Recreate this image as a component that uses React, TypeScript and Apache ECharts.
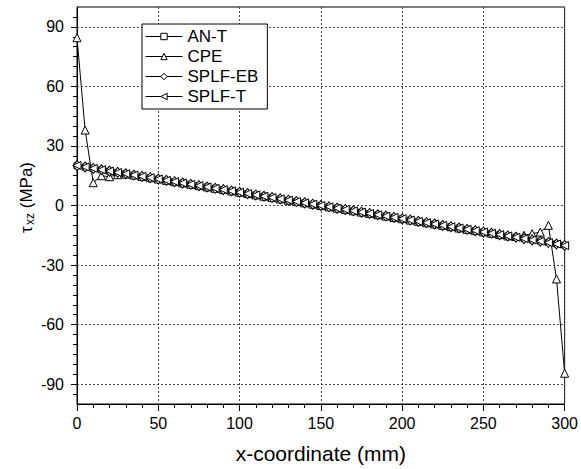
import React, { useEffect, useRef } from "react";
import * as echarts from "echarts";

const xValues = [
  0, 5, 10, 15, 20, 25, 30, 35, 40, 45, 50, 55, 60, 65, 70, 75, 80, 85, 90, 95,
  100, 105, 110, 115, 120, 125, 130, 135, 140, 145, 150, 155, 160, 165, 170, 175,
  180, 185, 190, 195, 200, 205, 210, 215, 220, 225, 230, 235, 240, 245, 250, 255,
  260, 265, 270, 275, 280, 285, 290, 295, 300,
];

const anT = [
  20, 19.33, 18.67, 18, 17.33, 16.67, 16, 15.33, 14.67, 14, 13.33, 12.67, 12,
  11.33, 10.67, 10, 9.33, 8.67, 8, 7.33, 6.67, 6, 5.33, 4.67, 4, 3.33, 2.67, 2,
  1.33, 0.67, 0, -0.67, -1.33, -2, -2.67, -3.33, -4, -4.67, -5.33, -6, -6.67,
  -7.33, -8, -8.67, -9.33, -10, -10.67, -11.33, -12, -12.67, -13.33, -14, -14.67,
  -15.33, -16, -16.67, -17.33, -18, -18.67, -19.33, -20,
];

const cpe = [
  84.5, 38, 11.5, 15, 14.5, 15.5, 15.8, 15.33, 14.67, 14, 13.33, 12.67, 12,
  11.33, 10.67, 10, 9.33, 8.67, 8, 7.33, 6.67, 6, 5.33, 4.67, 4, 3.33, 2.67, 2,
  1.33, 0.67, 0, -0.67, -1.33, -2, -2.67, -3.33, -4, -4.67, -5.33, -6, -6.67,
  -7.33, -8, -8.67, -9.33, -10, -10.67, -11.33, -12, -12.67, -13.33, -14, -14.67,
  -15.33, -15.6, -15, -14.2, -13.4, -10, -37, -84.5,
];

const splfEB = [
  20.1, 19.4, 18.7, 18, 17.33, 16.67, 16, 15.33, 14.67, 14, 13.33, 12.67, 12,
  11.33, 10.67, 10, 9.33, 8.67, 8, 7.33, 6.67, 6, 5.33, 4.67, 4, 3.33, 2.67, 2,
  1.33, 0.67, 0, -0.67, -1.33, -2, -2.67, -3.33, -4, -4.67, -5.33, -6, -6.67,
  -7.33, -8, -8.67, -9.33, -10, -10.67, -11.33, -12, -12.67, -13.33, -14, -14.67,
  -15.33, -16, -16.67, -17.33, -18, -18.67, -19.4, -20.1,
];

const splfT = [
  20.2, 19.4, 18.7, 18, 17.33, 16.67, 16, 15.33, 14.67, 14, 13.33, 12.67, 12,
  11.33, 10.67, 10, 9.33, 8.67, 8, 7.33, 6.67, 6, 5.33, 4.67, 4, 3.33, 2.67, 2,
  1.33, 0.67, 0, -0.67, -1.33, -2, -2.67, -3.33, -4, -4.67, -5.33, -6, -6.67,
  -7.33, -8, -8.67, -9.33, -10, -10.67, -11.33, -12, -12.67, -13.33, -14, -14.67,
  -15.33, -16, -16.67, -17.33, -18, -18.67, -19.4, -20.2,
];

const seriesNames = ["AN-T", "CPE", "SPLF-EB", "SPLF-T"];
const yMajorTicks = [-90, -60, -30, 0, 30, 60, 90];
const yMinorTicks = [
  -95, -90, -85, -80, -75, -70, -65, -60, -55, -50, -45, -40, -35, -30, -25, -20,
  -15, -10, -5, 0, 5, 10, 15, 20, 25, 30, 35, 40, 45, 50, 55, 60, 65, 70, 75, 80,
  85, 90, 95,
];

const FONT = "'Liberation Sans', Arial, Helvetica, sans-serif";

function pair(ys: number[]) {
  return xValues.map((x, i) => [x, ys[i]]);
}

export default function App() {
  const ref = useRef<HTMLDivElement>(null);
  useEffect(() => {
    document.body.style.margin = "0";
    if (!ref.current) return;
    const chart = echarts.init(ref.current, undefined, { renderer: "svg" });
    const gridLine = { show: true, lineStyle: { color: "#444", type: [2, 2], width: 1 } };
    const mkSeries = (name: string, ys: number[], symbol: string, size: any, z: number) => ({
      name,
      type: "line",
      data: pair(ys),
      symbol,
      symbolSize: size,
      showAllSymbol: true,
      lineStyle: { color: "#000", width: 1 },
      itemStyle: { color: "#fff", borderColor: "#000", borderWidth: 1 },
      z,
    });
    chart.setOption({
      animation: false,
      backgroundColor: "#fff",
      grid: { left: 77, right: 12, top: 7, bottom: 65, show: true, borderColor: "#000", borderWidth: 1, backgroundColor: "transparent" },
      legend: {
        orient: "vertical",
        left: 142,
        top: 24,
        itemWidth: 37,
        itemHeight: 8,
        itemGap: 3,
        padding: [4, 9, 4, 3],
        borderColor: "#000",
        borderWidth: 1,
        backgroundColor: "#fff",
        data: seriesNames,
        itemStyle: { color: "#fff", borderColor: "#000", borderWidth: 1 },
        lineStyle: { color: "#000", width: 1 },
        formatter: "{a|{name}}",
        textStyle: {
          fontSize: 17,
          color: "#000",
          fontFamily: FONT,
          lineHeight: 17,
          rich: { a: { fontSize: 17, lineHeight: 17, fontFamily: FONT, color: "#000" } },
        },
      },
      graphic: [
        {
          type: "group",
          x: 26,
          y: 233,
          rotation: Math.PI / 2,
          children: [
            { type: "text", x: 0, y: 0, style: { text: "τ", font: `17px ${FONT}`, fill: "#000", textAlign: "left", textVerticalAlign: "middle" } },
            { type: "text", x: 8, y: 4, style: { text: "xz", font: `12px ${FONT}`, fill: "#000", textAlign: "left", textVerticalAlign: "middle" } },
            { type: "text", x: 20, y: 0, style: { text: " (MPa)", font: `17px ${FONT}`, fill: "#000", textAlign: "left", textVerticalAlign: "middle" } },
          ],
        },
      ],
      xAxis: {
        type: "value",
        min: 0,
        max: 300,
        interval: 50,
        name: "x-coordinate (mm)",
        nameLocation: "middle",
        nameGap: 39,
        nameTextStyle: { fontSize: 21, color: "#000", fontFamily: FONT },
        axisLine: { show: true, onZero: false, lineStyle: { color: "#000", width: 1 } },
        axisTick: { show: true, length: 7, lineStyle: { color: "#000" } },
        minorTick: { show: true, splitNumber: 5, length: 4, lineStyle: { color: "#000" } },
        axisLabel: { fontSize: 16, color: "#000", fontFamily: FONT, margin: 11 },
        splitLine: gridLine,
      },
      yAxis: [
        {
          type: "value",
          min: -100,
          max: 100,
          interval: 10,
          axisLine: { show: true, onZero: false, lineStyle: { color: "#000", width: 1 } },
          axisTick: { show: true, length: 6, customValues: yMajorTicks, lineStyle: { color: "#000" } },
          axisLabel: { fontSize: 16, color: "#000", fontFamily: FONT, margin: 13, customValues: yMajorTicks },
          splitLine: gridLine,
        },
        {
          type: "value",
          min: -100,
          max: 100,
          interval: 10,
          position: "left",
          axisLine: { show: false, onZero: false },
          axisTick: { show: true, length: 4, customValues: yMinorTicks, lineStyle: { color: "#000" } },
          axisLabel: { show: false },
          splitLine: { show: false },
        },
      ],
      series: [
        mkSeries("AN-T", anT, "rect", 6, 2),
        mkSeries("CPE", cpe, "triangle", 8, 3),
        mkSeries("SPLF-EB", splfEB, "diamond", [8, 10], 4),
        mkSeries("SPLF-T", splfT, "path://M0,5L10,0L10,10Z", 8, 5),
      ],
    });
    return () => chart.dispose();
  }, []);
  return <div ref={ref} style={{ width: 581, height: 469 }} />;
}
